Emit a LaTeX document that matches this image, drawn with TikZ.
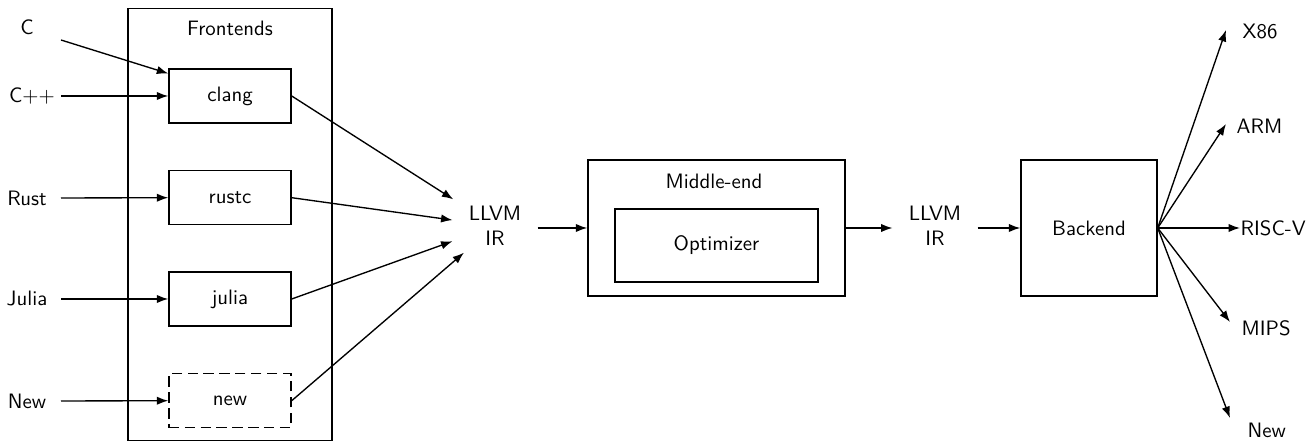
\documentclass[tikz,border=0pt]{standalone}
\usetikzlibrary{arrows.meta}
\begin{document}
\begin{tikzpicture}[x=0.48pt,y=-0.48pt,font=\sffamily,line width=0.65pt,
  >={Latex[length=5.5pt,width=4pt]},
  fbox/.style={draw,minimum width=58.6pt,minimum height=25.9pt,inner sep=0pt},
  irnode/.style={align=center,inner xsep=7.5pt,inner ysep=3pt},
  lbl/.style={inner sep=0pt}]
\useasboundingbox (0,0) rectangle (1314,443);
% frontends container
\node[draw,minimum width=97.9pt,minimum height=207.4pt,inner sep=0pt] (fe) at (230,224.3) {};
\node (fetitle) at (230,28) {Frontends};
\node[fbox] (clang) at (230,96) {clang};
\node[fbox] (rustc) at (230,197.7) {rustc};
\node[fbox] (julia) at (230,299) {julia};
\node[fbox,dash pattern=on 5pt off 2.6pt] (new) at (230,400.7) {new};
% input labels
\node[lbl] (lc) at (27,27) {C};
\node[lbl] (lcpp) at (32,96) {C++};
\node[lbl] (lrust) at (27,198) {Rust};
\node[lbl] (ljulia) at (27,299) {Julia};
\node[lbl] (lnew) at (27,401) {New};
\coordinate (sc) at (61,40);
\coordinate (scpp) at (61,96);
\coordinate (srust) at (61,198);
\coordinate (sjulia) at (61,299);
\coordinate (snew) at (61,401);
\draw[->] (sc) -- (clang.160);
\draw[->] (scpp) -- (clang.west);
\draw[->] (srust) -- (rustc.west);
\draw[->] (sjulia) -- (julia.west);
\draw[->] (snew) -- (new.west);
% LLVM IR 1
\node[irnode] (ir1) at (495,226) {LLVM\\IR};
\draw[->] (clang.east) -- (ir1);
\draw[->] (rustc.east) -- (ir1);
\draw[->] (julia.east) -- (ir1);
\draw[->] (new.east) -- (ir1);
% middle-end
\node[draw,minimum width=123.4pt,minimum height=65.3pt,inner sep=0pt] (mid) at (716.5,228) {};
\node (midtitle) at (714,181) {Middle-end};
\node[draw,minimum width=97.4pt,minimum height=35pt,inner sep=0pt] (opt) at (716.5,245.5) {Optimizer};
\draw[->] (ir1.east |- mid.west) -- (mid.west);
% LLVM IR 2
\node[irnode] (ir2) at (935,226) {LLVM\\IR};
\draw[->] (mid.east) -- (ir2.west |- mid.east);
% backend
\node[draw,minimum width=65.3pt,minimum height=65.3pt,inner sep=0pt] (be) at (1089,228) {Backend};
\draw[->] (ir2.east |- be.west) -- (be.west);
% outputs
\node[lbl,anchor=west] (lx86) at (1242,32) {X86};
\node[lbl,anchor=west] (larm) at (1236,126) {ARM};
\node[lbl,anchor=west] (lrv) at (1240,228) {RISC-V};
\node[lbl,anchor=west] (lmips) at (1241,328) {MIPS};
\node[lbl,anchor=west] (lnewo) at (1247,430) {New};
\coordinate (tx86) at (1226,30);
\coordinate (tarm) at (1226,124);
\coordinate (tmips) at (1230,322);
\coordinate (tnew) at (1230,418);
\draw[->] (be.east) -- (tx86);
\draw[->] (be.east) -- (tarm);
\draw[->] (be.east) -- (lrv.west);
\draw[->] (be.east) -- (tmips);
\draw[->] (be.east) -- (tnew);
\end{tikzpicture}
\end{document}
